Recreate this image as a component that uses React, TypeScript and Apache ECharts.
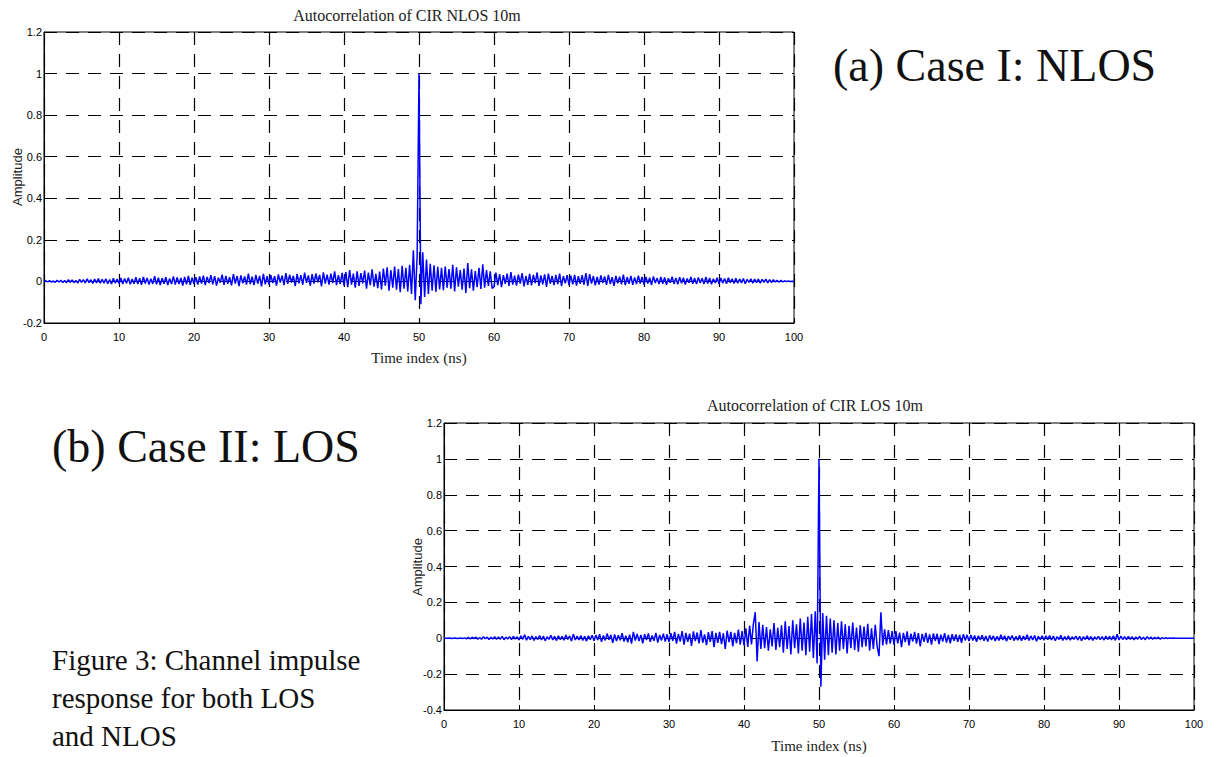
import React, { useEffect, useRef } from "react";
import * as echarts from "echarts";

// Sample spacing of the autocorrelation traces (ns)
const STEP_NS = 0.25;

// Time axis ticks (ns)
const timeTicks = [0, 10, 20, 30, 40, 50, 60, 70, 80, 90, 100];

// NLOS autocorrelation amplitude, in thousandths, one array per 10 ns block
const nlos0to10 = [0, 3, -2, 4, -3, 2, -4, 5, -3, 6, -5, 4, -6, 8, -4, 7, -6, 5, -8, 10, -5, 9, -7, 12, -6, 8, -10, 11, -7, 14, -9, 10, -8, 13, -11, 9, -12, 15, -8, 11];
const nlos10to20 = [-10, 16, -12, 14, -9, 18, -14, 12, -11, 20, -13, 15, -16, 22, -10, 17, -15, 13, -12, 25, -14, 18, -17, 16, -11, 21, -18, 14, -13, 24, -15, 19, -12, 17, -20, 22, -14, 26, -16, 18];
const nlos20to30 = [-12, 20, -15, 24, -10, 28, -18, 22, -8, 30, -14, 25, -20, 18, -6, 33, -16, 27, -12, 21, -19, 35, -10, 26, -22, 29, -9, 24, -15, 38, -13, 23, -18, 31, -11, 27, -24, 36, -14, 25];
const nlos30to40 = [-15, 30, -8, 26, -20, 34, -6, 28, -18, 40, -12, 32, -5, 27, -22, 36, -9, 30, -16, 42, -7, 29, -20, 35, -10, 38, -4, 31, -24, 44, -11, 33, -15, 37, -8, 48, -18, 30, -13, 41];
const nlos40to50 = [-20, 45, -28, 55, -15, 38, -30, 48, -22, 40, -10, 52, -35, 42, -18, 58, -25, 36, -32, 47, -38, 62, -20, 68, -45, 55, -30, 72, -40, 60, -52, 75, -35, 66, -48, 80, -60, 150, -90, 120];
const nlos50to60 = [1000, -110, 140, -75, 105, -60, 85, -45, 78, -50, 70, -38, 65, -42, 72, -30, 60, -35, 80, -48, 68, -25, 55, -40, 62, -55, 88, -32, 58, -45, 50, -28, 66, -36, 82, -30, 55, -22, 48, -34];
const nlos60to70 = [-25, 42, -18, 35, -28, 30, -12, 38, -22, 45, -15, 28, -20, 33, -10, 40, -24, 26, -16, 36, -19, 31, -8, 43, -21, 29, -14, 34, -26, 38, -11, 27, -18, 32, -13, 37, -22, 25, -9, 30];
const nlos70to80 = [-18, 28, -14, 32, -20, 25, -12, 30, -16, 40, -22, 35, -10, 26, -19, 22, -15, 29, -8, 24, -17, 31, -12, 20, -21, 27, -9, 23, -14, 33, -18, 21, -11, 26, -16, 19, -13, 28, -10, 22];
const nlos80to90 = [-15, 22, -10, 18, -17, 24, -8, 16, -13, 21, -11, 19, -16, 15, -7, 23, -12, 17, -14, 20, -9, 18, -15, 14, -6, 22, -11, 16, -13, 19, -8, 15, -12, 21, -10, 17, -14, 13, -7, 18];
const nlos90to100 = [-12, 16, -8, 14, -11, 18, -6, 13, -10, 15, -9, 12, -7, 14, -11, 10, -5, 13, -8, 11, -6, 12, -9, 10, -4, 11, -7, 9, -5, 8, -3, 6, -4, 5, -2, 3, -1, 2, 0, 1];
const nlosAt100 = 0;

// LOS autocorrelation amplitude, in thousandths, one array per 10 ns block
const los0to10 = [0, 0, 0, 1, -1, 0, 1, -1, 0, 1, -1, 2, -3, 5, -4, 6, -2, 7, -5, 4, -6, 8, -3, 6, -7, 5, -4, 9, -6, 7, -5, 10, -8, 6, -4, 9, -7, 11, -5, 8];
const los10to20 = [-9, 14, -6, 20, -11, 10, -8, 13, -12, 9, -7, 15, -10, 12, -14, 8, -6, 16, -9, 11, -13, 14, -8, 10, -11, 18, -7, 13, -15, 22, -10, 12, -9, 15, -12, 11, -16, 14, -8, 17];
const los20to30 = [-14, 18, -10, 22, -20, 15, -12, 26, -8, 19, -25, 21, -15, 17, -11, 28, -18, 14, -22, 20, -30, 35, -13, 24, -16, 19, -28, 23, -10, 27, -20, 16, -14, 30, -24, 18, -12, 25, -19, 22];
const los30to40 = [-22, 28, -15, 35, -30, 24, -18, 40, -35, 30, -20, 26, -42, 38, -16, 32, -28, 45, -25, 22, -38, 34, -20, 40, -50, 30, -26, 36, -33, 28, -60, 42, -22, 35, -45, 30, -28, 48, -36, 40];
const los40to50 = [-40, 55, -48, 70, -35, 80, 145, -130, 90, -60, 75, -55, 62, -70, 50, -45, 85, -65, 58, -50, 72, -80, 95, -60, 68, -90, 100, -55, 78, -85, 110, -70, 88, -95, 120, -75, 135, -110, 150, -140];
const los50to60 = [1000, -270, 140, -120, 125, -95, 110, -80, 100, -90, 85, -70, 95, -60, 78, -85, 70, -55, 88, -65, 60, -75, 72, -50, 65, -45, 80, -70, 55, -60, 75, -45, -100, 145, -40, 50, -35, 45, -30, 40];
const los60to70 = [-35, 40, -28, 32, -50, 30, -22, 38, -40, 26, -18, 35, -30, 28, -45, 24, -20, 30, -26, 22, -35, 27, -15, 25, -32, 20, -18, 28, -24, 19, -28, 23, -14, 21, -20, 18, -25, 22, -12, 19];
const los70to80 = [-16, 18, -12, 15, -20, 14, -10, 17, -14, 12, -18, 16, -9, 13, -15, 11, -12, 19, -10, 14, -16, 12, -8, 15, -13, 10, -11, 16, -14, 12, -9, 20, -12, 13, -10, 15, -17, 11, -8, 14];
const los80to90 = [-11, 13, -8, 15, -10, 12, -14, 9, -7, 16, -12, 10, -9, 14, -11, 8, -6, 12, -10, 11, -13, 9, -7, 13, -9, 10, -12, 8, -6, 11, -8, 9, -10, 12, -7, 10, -9, 14, -12, 22];
const los90to100 = [-10, 12, -7, 9, -8, 11, -6, 8, -9, 7, -5, 10, -7, 6, -8, 9, -4, 7, -6, 5, -3, 6, -5, 4, -2, 3, -1, 2, 0, 1, 0, 0, 0, 0, 0, 0, 0, 0, 0, 0];
const losAt100 = 0;

const nlosBlocks = [nlos0to10, nlos10to20, nlos20to30, nlos30to40, nlos40to50, nlos50to60, nlos60to70, nlos70to80, nlos80to90, nlos90to100];
const losBlocks = [los0to10, los10to20, los20to30, los30to40, los40to50, los50to60, los60to70, los70to80, los80to90, los90to100];

// Join the 10 ns blocks into [time, amplitude] pairs
function toPoints(blocks: number[][], last: number): [number, number][] {
  const pts: [number, number][] = [];
  blocks.forEach((block, b) => {
    block.forEach((milli, k) => {
      pts.push([timeTicks[b] + k * STEP_NS, milli / 1000]);
    });
  });
  pts.push([timeTicks[timeTicks.length - 1], last / 1000]);
  return pts;
}

const SERIF = "Liberation Serif, Times New Roman, serif";
const SANS = "Liberation Sans, Arial, sans-serif";
const INK = "#111";
const TRACE = "#0000ff";

function makeXAxis(gridIndex: number, nameGap: number) {
  return {
    type: "value" as const,
    gridIndex,
    min: timeTicks[0],
    max: timeTicks[timeTicks.length - 1],
    interval: 10,
    name: "Time index (ns)",
    nameLocation: "middle" as const,
    nameGap,
    nameTextStyle: { fontFamily: SERIF, fontSize: 15, color: "#222" },
    axisLine: { show: true, onZero: false, lineStyle: { color: "#000", width: 1 } },
    axisTick: { show: true, inside: true, length: 5, lineStyle: { color: "#000" } },
    axisLabel: { fontFamily: SANS, fontSize: 11, color: "#000", margin: 8 },
    splitLine: { show: true, lineStyle: { color: "#000", width: 1.2, type: [13, 9] } },
  };
}

function makeYAxis(gridIndex: number, min: number) {
  return {
    type: "value" as const,
    gridIndex,
    min,
    max: 1.2,
    interval: 0.2,
    axisLine: { show: true, onZero: false, lineStyle: { color: "#000", width: 1 } },
    axisTick: { show: true, inside: true, length: 5, lineStyle: { color: "#000" } },
    axisLabel: {
      fontFamily: SANS,
      fontSize: 11,
      color: "#000",
      margin: 2,
      formatter: (v: number) => String(Math.round(v * 10) / 10),
    },
    splitLine: { show: true, lineStyle: { color: "#000", width: 1.2, type: [13, 9] } },
  };
}

function traceSeries(name: string, axis: number, data: [number, number][]) {
  return {
    name,
    type: "line" as const,
    xAxisIndex: axis,
    yAxisIndex: axis,
    showSymbol: false,
    lineStyle: { color: TRACE, width: 1.5 },
    data,
    z: 3,
  };
}

function label(text: string, x: number, y: number, size: number, align: string, color = INK) {
  return {
    type: "text",
    x,
    y,
    style: { text, font: `${size}px ${SERIF}`, fill: color, textAlign: align, textVerticalAlign: "middle" },
  };
}

// Vertical y-axis title placed beside a plot
function amplitudeTitle(x: number, y: number) {
  return {
    type: "text",
    x,
    y,
    rotation: Math.PI / 2,
    style: { text: "Amplitude", font: `13px ${SANS}`, fill: "#222", textAlign: "center", textVerticalAlign: "middle" },
  };
}

export default function App() {
  const ref = useRef<HTMLDivElement>(null);

  useEffect(() => {
    if (!ref.current) return;
    const chart = echarts.init(ref.current, undefined, { renderer: "svg" });

    const gridBase = {
      show: true,
      borderColor: "#000",
      borderWidth: 1,
      backgroundColor: "transparent",
      containLabel: false,
      outerBoundsMode: "none",
    };

    chart.setOption({
      animation: false,
      backgroundColor: "#fff",
      grid: [
        { ...gridBase, left: 44, top: 32, width: 750, height: 291 },
        { ...gridBase, left: 444, top: 423, width: 750, height: 287 },
      ],
      xAxis: [makeXAxis(0, 27), makeXAxis(1, 28)],
      yAxis: [makeYAxis(0, -0.2), makeYAxis(1, -0.4)],
      series: [
        traceSeries("CIR NLOS 10m", 0, toPoints(nlosBlocks, nlosAt100)),
        traceSeries("CIR LOS 10m", 1, toPoints(losBlocks, losAt100)),
      ],
      graphic: [
        label("Autocorrelation of CIR NLOS 10m", 407, 15, 16, "center", "#222"),
        label("Autocorrelation of CIR LOS 10m", 815, 405, 16, "center", "#222"),
        amplitudeTitle(17, 177),
        amplitudeTitle(417, 567),
        label("(a) Case I: NLOS", 833, 65, 46, "left"),
        label("(b) Case II: LOS", 52, 446, 46, "left"),
        label("Figure 3: Channel impulse", 52, 660, 29, "left"),
        label("response for both LOS", 52, 698, 29, "left"),
        label("and NLOS", 52, 736, 29, "left"),
      ],
    });

    return () => chart.dispose();
  }, []);

  return (
    <div
      ref={ref}
      style={{ position: "absolute", left: 0, top: 0, width: 1218, height: 757, background: "#fff" }}
    />
  );
}
